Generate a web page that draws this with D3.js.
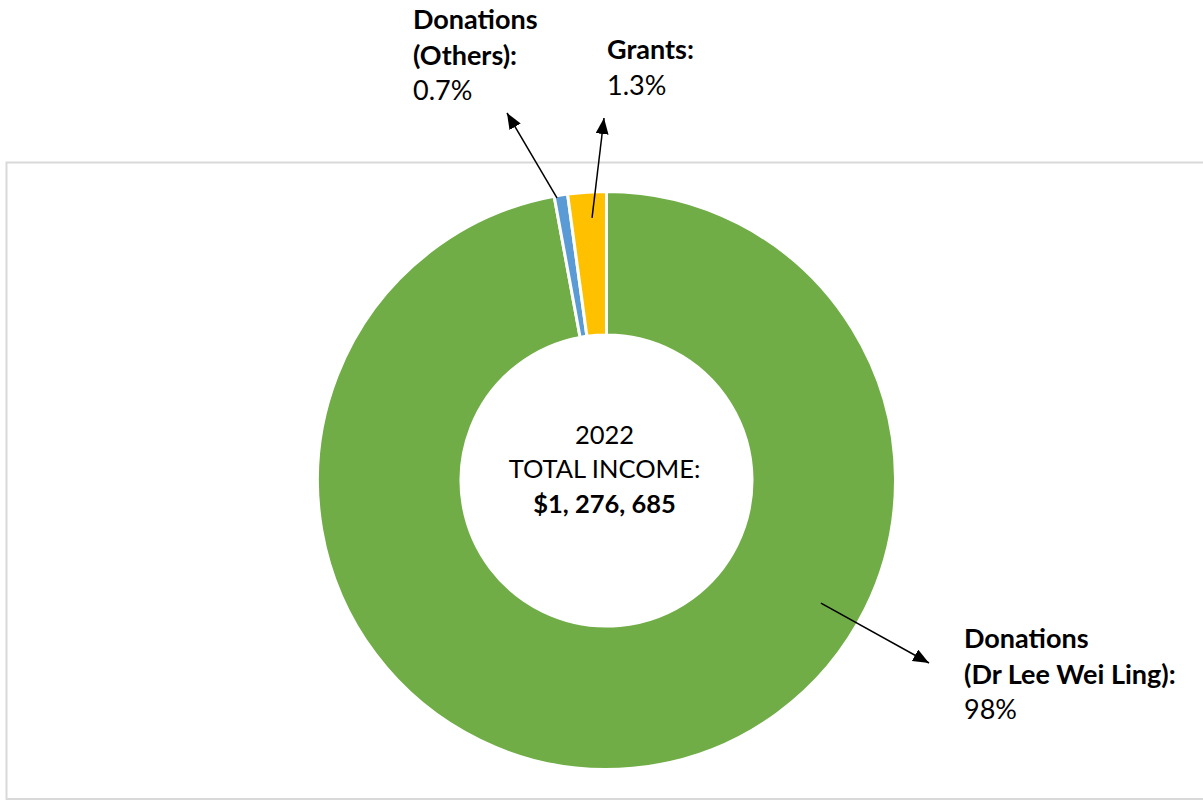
<!DOCTYPE html>
<html>
<head>
<meta charset="utf-8">
<script src="https://cdn.jsdelivr.net/npm/d3@7/dist/d3.min.js"></script>
<style>
  html, body { margin: 0; padding: 0; background: #fff; }
  svg { display: block; }
  text { font-family: Lato, "Open Sans", sans-serif; fill: #000; }
</style>
</head>
<body>
<div id="chart"></div>
<script>
// slices, clockwise from 12 o'clock
const categories = ["Donations (Dr Lee Wei Ling)", "Donations (Others)", "Grants"];
const values = [97.1, 0.75, 2.15];
const colors = ["#70AD47", "#5B9BD5", "#FFC000"];
// label lines: bold title lines, then the percentage
const titleLines = [["Donations", "(Dr Lee Wei Ling):"], ["Donations", "(Others):"], ["Grants:"]];
const pctLabels = ["98%", "0.7%", "1.3%"];
// centre text
const centreLines = ["2022", "TOTAL INCOME:", "$1, 276, 685"];

let width = 1203;
let height = 801;
let cx = 606.5;
let cy = 480.5;
let outerR = 289;
let innerR = 145.5;

// where each callout arrow starts (angle in slice, radius) and where its label sits
let callouts = [
    { angle: 2.09, r: 247, tip: [929, 663], x: 964, y: 648 },
    { angle: -0.1735, r: 287, tip: [507, 113], x: 413, y: 29 },
    { angle: -0.055, r: 263, tip: [604, 118], x: 607, y: 59 }
];

let svg = d3.select('#chart').append('svg')
    .attr('width', width)
    .attr('height', height);

// chart area border
svg.append('rect')
    .attr('x', 6.5)
    .attr('y', 162.5)
    .attr('width', 1210)
    .attr('height', 636.5)
    .style('fill', 'none')
    .style('stroke', '#d9d9d9')
    .style('stroke-width', 2);

svg.append('defs').append('marker')
    .attr('id', 'head')
    .attr('markerUnits', 'userSpaceOnUse')
    .attr('markerWidth', 18)
    .attr('markerHeight', 14)
    .attr('refX', 16)
    .attr('refY', 6.5)
    .attr('orient', 'auto')
    .append('path')
    .attr('d', 'M0,0 L16,6.5 L0,13 Z')
    .style('fill', '#000');

let pie = d3.pie().sort(null).value(function (d) { return d; });
let arc = d3.arc().innerRadius(innerR).outerRadius(outerR);

let g = svg.append('g')
    .attr('transform', 'translate(' + cx + ', ' + cy + ')');

g.selectAll('path')
    .data(pie(values))
    .enter().append('path')
    .attr('d', arc)
    .style('fill', function (d, i) { return colors[i]; })
    .style('stroke', '#fff')
    .style('stroke-width', 3);

// centre text
let centre = g.append('text').attr('text-anchor', 'middle');
centre.selectAll('tspan')
    .data(centreLines)
    .enter().append('tspan')
    .attr('x', -2)
    .attr('y', function (d, i) { return -37 + i * 34.5; })
    .style('font-size', '25.5px')
    .style('font-weight', function (d, i) { return i == 2 ? 'bold' : 'normal'; })
    .text(function (d) { return d; });

// callout arrows and labels
for (let i = 0; i < categories.length; i++) {
    let c = callouts[i];
    let sx = cx + c.r * Math.sin(c.angle);
    let sy = cy - c.r * Math.cos(c.angle);
    svg.append('line')
        .attr('x1', sx)
        .attr('y1', sy)
        .attr('x2', c.tip[0])
        .attr('y2', c.tip[1])
        .style('stroke', '#000')
        .style('stroke-width', 1.5)
        .attr('marker-end', 'url(#head)');

    let label = svg.append('text').style('font-size', '27px');
    let lines = titleLines[i].concat([pctLabels[i]]);
    label.selectAll('tspan')
        .data(lines)
        .enter().append('tspan')
        .attr('x', c.x)
        .attr('y', function (d, j) { return c.y + j * 35.5; })
        .style('font-weight', function (d, j) { return j < lines.length - 1 ? 'bold' : 'normal'; })
        .text(function (d) { return d; });
}
</script>
</body>
</html>
